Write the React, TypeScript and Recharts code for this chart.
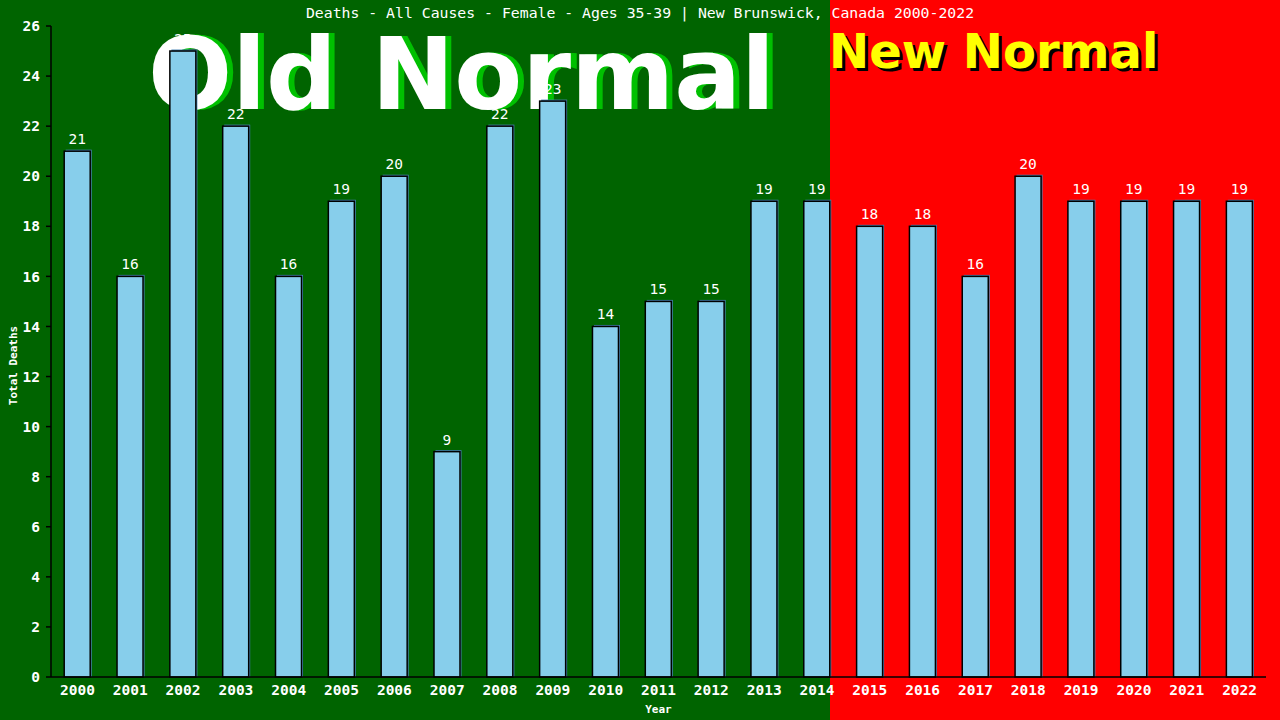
import React from 'react';
import {
  BarChart,
  Bar,
  XAxis,
  YAxis,
  LabelList,
  Label,
} from 'recharts';

const years = [
  '2000', '2001', '2002', '2003', '2004', '2005', '2006', '2007', '2008', '2009', '2010', '2011',
  '2012', '2013', '2014', '2015', '2016', '2017', '2018', '2019', '2020', '2021', '2022',
];
const deaths = [21, 16, 25, 22, 16, 19, 20, 9, 22, 23, 14, 15, 15, 19, 19, 18, 18, 16, 20, 19, 19, 19, 19];
const yTicks = [0, 2, 4, 6, 8, 10, 12, 14, 16, 18, 20, 22, 24, 26];

const title = 'Deaths - All Causes - Female - Ages 35-39 | New Brunswick, Canada 2000-2022';

const mono = '"DejaVu Sans Mono", "Liberation Mono", monospace';
const sansBold = '"DejaVu Sans", Verdana, sans-serif';

const data = years.map((year, i) => ({ year, deaths: deaths[i] }));

function BarShape(props: any) {
  const { x, y, width, height } = props;
  if (height <= 0) return null;
  return (
    <g>
      <rect x={x + 1.5} y={y - 1.5} width={width} height={height + 1.5} fill="#4682B4" />
      <rect x={x} y={y} width={width} height={height} fill="#87CEEB" stroke="#000" strokeWidth={1.5} />
    </g>
  );
}

export default function App() {
  return (
    <div style={{ position: 'absolute', left: 0, top: 0, width: 1280, height: 720, overflow: 'hidden' }}>
      {/* background halves */}
      <div style={{ position: 'absolute', left: 0, top: 0, width: 830, height: 720, background: '#006400' }} />
      <div style={{ position: 'absolute', left: 830, top: 0, width: 450, height: 720, background: '#FF0000' }} />

      {/* big captions, drawn behind the bars */}
      <div
        style={{
          position: 'absolute',
          left: 148,
          top: 17,
          fontFamily: sansBold,
          fontWeight: 'bold',
          fontSize: 99,
          lineHeight: '116px',
          color: '#fff',
          textShadow: '6px 0 0 #00C000',
          whiteSpace: 'nowrap',
        }}
      >
        Old Normal
      </div>
      <div
        style={{
          position: 'absolute',
          left: 829,
          top: 23,
          fontFamily: sansBold,
          fontWeight: 'bold',
          fontSize: 48,
          lineHeight: '56px',
          color: '#FFFF00',
          textShadow: '3px 3px 0 #000',
          whiteSpace: 'nowrap',
        }}
      >
        New Normal
      </div>

      <div
        style={{
          position: 'absolute',
          left: 0,
          top: 3,
          width: 1280,
          textAlign: 'center',
          fontFamily: mono,
          fontSize: 14.8,
          lineHeight: '20px',
          color: '#fff',
          whiteSpace: 'pre',
        }}
      >
        {title}
      </div>

      <div style={{ position: 'absolute', left: 0, top: 0 }}>
        <BarChart
          width={1280}
          height={720}
          data={data}
          margin={{ top: 26, right: 14, bottom: 13, left: 0 }}
          barCategoryGap="25%"
        >
          <XAxis
            dataKey="year"
            height={30}
            tickLine={false}
            tickSize={6}
            axisLine={{ stroke: '#000', strokeWidth: 1.5 }}
            tick={{ fill: '#fff', fontFamily: mono, fontSize: 14.5, fontWeight: 'bold' }}
            interval={0}
          >
            <Label
              content={({ viewBox }: any) => (
                <text
                  x={viewBox.x + viewBox.width / 2}
                  y={713}
                  textAnchor="middle"
                  fill="#fff"
                  fontFamily={mono}
                  fontSize={11}
                  fontWeight="bold"
                >
                  Year
                </text>
              )}
            />
          </XAxis>
          <YAxis
            yAxisId="left"
            width={51}
            domain={[0, 26]}
            ticks={yTicks}
            interval={0}
            tickSize={5}
            tickMargin={6}
            tickLine={{ stroke: '#000', strokeWidth: 1.5 }}
            axisLine={{ stroke: '#000', strokeWidth: 1.5 }}
            tick={{ fill: '#fff', fontFamily: mono, fontSize: 14.5, fontWeight: 'bold' }}
          >
            <Label
              content={({ viewBox }: any) => {
                const cx = 13;
                const cy = viewBox.y + viewBox.height / 2 + 14;
                return (
                  <text
                    x={cx}
                    y={cy}
                    transform={`rotate(-90, ${cx}, ${cy})`}
                    textAnchor="middle"
                    dominantBaseline="central"
                    fill="#fff"
                    fontFamily={mono}
                    fontSize={11}
                    fontWeight="bold"
                  >
                    Total Deaths
                  </text>
                );
              }}
            />
          </YAxis>
          <YAxis
            yAxisId="right"
            orientation="right"
            width={0}
            domain={[0, 26]}
            tick={false}
            tickLine={false}
            axisLine={{ stroke: '#000', strokeWidth: 1.5 }}
          />
          <Bar yAxisId="left" dataKey="deaths" shape={<BarShape />} isAnimationActive={false}>
            <LabelList
              dataKey="deaths"
              position="top"
              offset={7}
              fill="#fff"
              fontFamily={mono}
              fontSize={14.5}
            />
          </Bar>
        </BarChart>
      </div>
    </div>
  );
}
